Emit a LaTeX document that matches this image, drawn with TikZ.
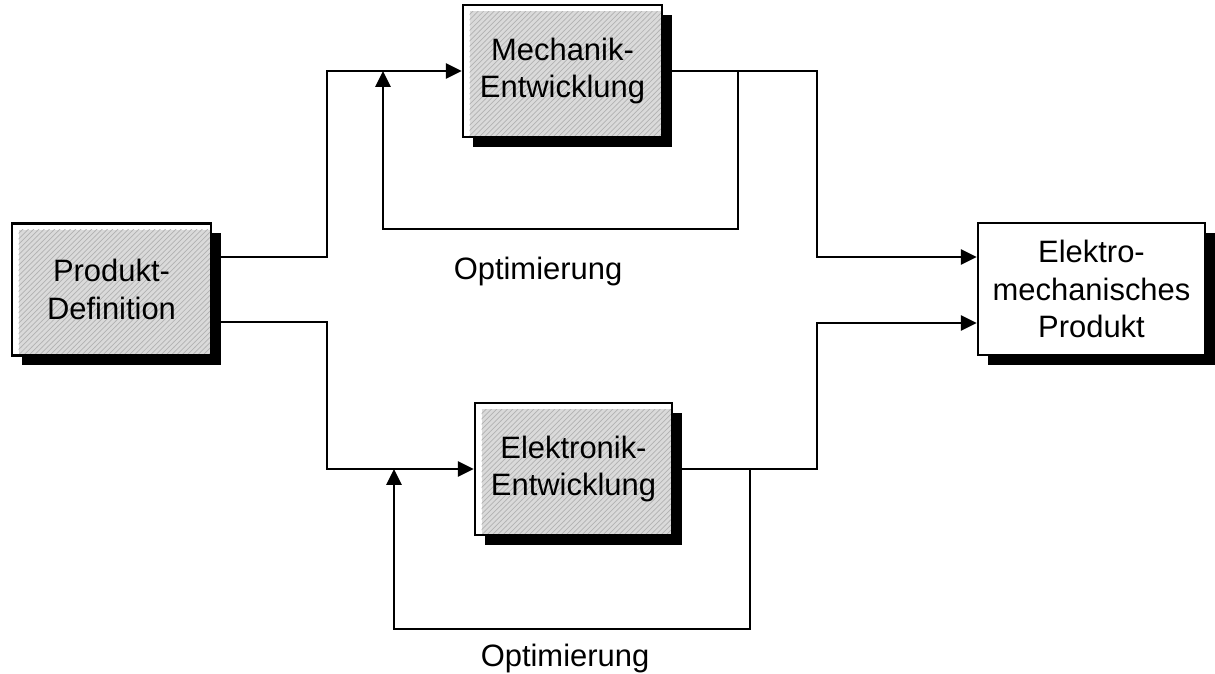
\documentclass[tikz,border=0pt]{standalone}
\usepackage{fontspec}
\setmainfont{Liberation Sans}
\usetikzlibrary{positioning, calc, arrows.meta, shadows, patterns}
\definecolor{Ink}{HTML}{000000}
\definecolor{Hatch}{HTML}{DADADA}
\tikzset{
    blockbase/.style={rectangle, draw=Ink, line width=1.3pt, align=center,
        minimum height=2.64cm, text=Ink,
        font=\fontsize{17.6}{21.5}\selectfont,
        drop shadow={shadow xshift=0.2cm, shadow yshift=-0.2cm, fill=Ink, opacity=1}},
    hatchbox/.style={blockbase, fill=white,
        path picture={\fill[Hatch] ([shift={(0.13,-0.13)}]path picture bounding box.north west) rectangle (path picture bounding box.south east);
            \fill[pattern=north east lines, pattern color=gray!60] ([shift={(0.13,-0.13)}]path picture bounding box.north west) rectangle (path picture bounding box.south east);}},
    plainbox/.style={blockbase, fill=white},
    line/.style={line width=1.6pt, color=Ink},
    arrow/.style={line, -{Triangle[length=0.32cm, width=0.3cm]}},
    lbl/.style={text=Ink, font=\fontsize{17.6}{21.5}\selectfont},
}
\begin{document}
\begin{tikzpicture}
    \useasboundingbox (0,0) rectangle (24.3,13.48);

    % Bloecke
    \node[hatchbox, minimum width=3.98cm] (prod) at (2.23,7.69) {Produkt-\\Definition};
    \node[hatchbox, minimum width=3.98cm] (mech) at (11.25,12.06) {Mechanik-\\Entwicklung};
    \node[hatchbox, minimum width=3.94cm] (elec) at (11.47,4.10) {Elektronik-\\Entwicklung};
    \node[plainbox, minimum width=4.54cm] (emp) at (21.83,7.70) {Elektro-\\mechanisches\\Produkt};

    % Knickpunkte
    \coordinate (splitM) at (6.54,12.06);
    \coordinate (splitE) at (6.54,4.10);
    \coordinate (fbMout) at (14.76,12.06);
    \coordinate (fbMin) at (7.66,12.06);
    \coordinate (fbEout) at (15.00,4.10);
    \coordinate (fbEin) at (7.88,4.10);
    \coordinate (joinM) at (16.34,8.34);
    \coordinate (joinE) at (16.34,7.02);

    % Verzweigung
    \draw[arrow] ([yshift=0.65cm]prod.east) -| (splitM) -- (mech.west);
    \draw[arrow] ([yshift=-0.65cm]prod.east) -| (splitE) -- (elec.west);

    % Rueckfuehrung
    \draw[arrow] (fbMout) -- ++(0,-3.16) -| (fbMin);
    \draw[arrow] (fbEout) -- ++(0,-3.20) -| (fbEin);

    % Zusammenfuehrung
    \draw[arrow] (mech.east) -| (joinM) -- (joinM -| emp.west);
    \draw[arrow] (elec.east) -| (joinE) -- (joinE -| emp.west);

    % Beschriftung
    \node[lbl] (optM) at (10.76,8.04) {Optimierung};
    \node[lbl] (optE) at (11.30,0.30) {Optimierung};
\end{tikzpicture}
\end{document}
